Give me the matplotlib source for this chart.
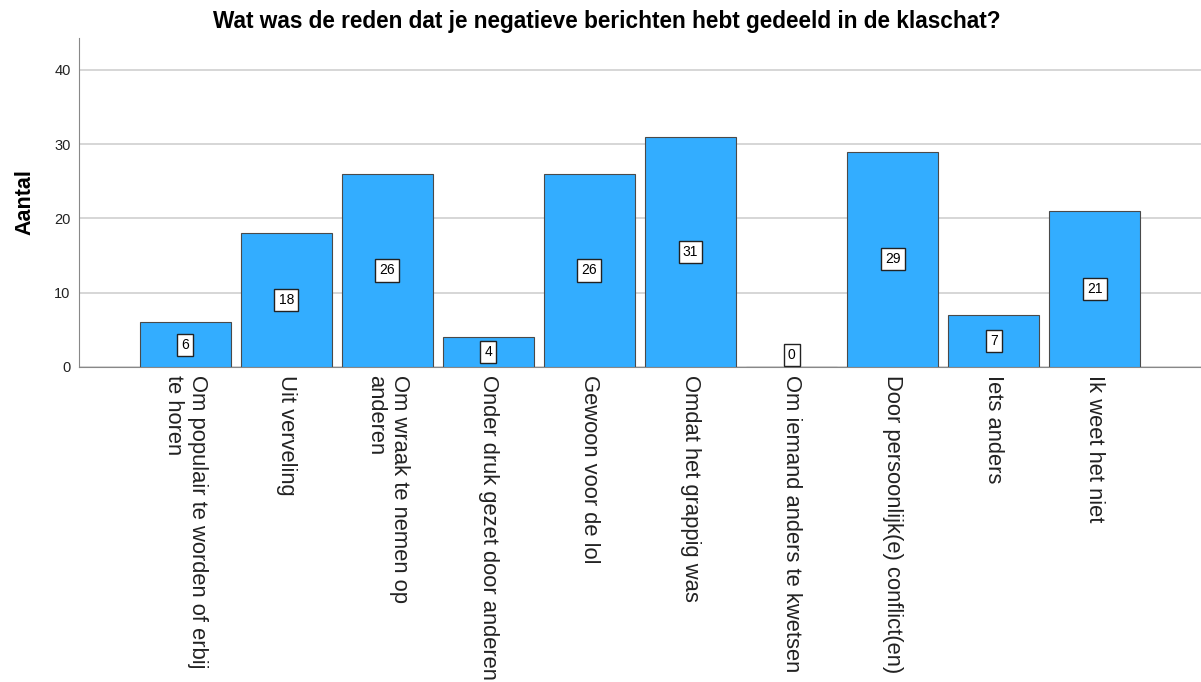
import numpy as np
import matplotlib.pyplot as plt

plt.rcParams['font.family'] = ['Liberation Sans', 'DejaVu Sans']

# Data
categories = [
    "Om populair te worden of erbij\nte horen",
    "Uit verveling",
    "Om wraak te nemen op\nanderen",
    "Onder druk gezet door anderen",
    "Gewoon voor de lol",
    "Omdat het grappig was",
    "Om iemand anders te kwetsen",
    "Door persoonlijk(e) conflict(en)",
    "Iets anders",
    "Ik weet het niet",
]
counts = [6, 18, 26, 4, 26, 31, 0, 29, 7, 21]
yticks = [0, 10, 20, 30, 40]

fig = plt.figure(figsize=(12.01, 6.82), dpi=100)
ax = fig.add_axes([79 / 1201, 1 - 367 / 682, 1 - 79 / 1201, (367 - 38) / 682])

x = np.arange(len(categories))
ax.bar(x, counts, width=0.9, color='#33adff', edgecolor='#4a4a4a', linewidth=0.8, zorder=3)

# value boxes in the middle of each bar
for xi, v in zip(x, counts):
    ax.text(xi, max(v / 2, 1.6), str(v), ha='center', va='center', fontsize=10, zorder=4,
            bbox=dict(boxstyle='square,pad=0.3', facecolor='white', edgecolor='#222222', linewidth=1))

ax.set_xlim(-1.05, 10.05)
ax.set_ylim(0, 44.3)
ax.set_yticks(yticks)
ax.yaxis.grid(True, color='#d0d0d0', linewidth=1.2, zorder=0)
ax.set_axisbelow(True)

ax.set_xticks(x)
ax.set_xticklabels(categories, rotation=270, ha='center', va='top', multialignment='left', fontsize=15.8)
ax.tick_params(axis='x', length=0, pad=6, colors='#222222')
ax.tick_params(axis='y', length=0, pad=6, labelsize=10.5, colors='#222222')

for side in ['top', 'right']:
    ax.spines[side].set_visible(False)
ax.spines['left'].set_color('#888888')
ax.spines['bottom'].set_color('#888888')

ax.set_ylabel('Aantal', fontsize=15.5, fontweight='bold')
ax.yaxis.set_label_coords(-0.039, 0.5)
fig.suptitle('Wat was de reden dat je negatieve berichten hebt gedeeld in de klaschat?',
             fontsize=16.3, fontweight='bold', x=0.505, y=0.985, va='top')

fig.savefig('out.png', dpi=100)
